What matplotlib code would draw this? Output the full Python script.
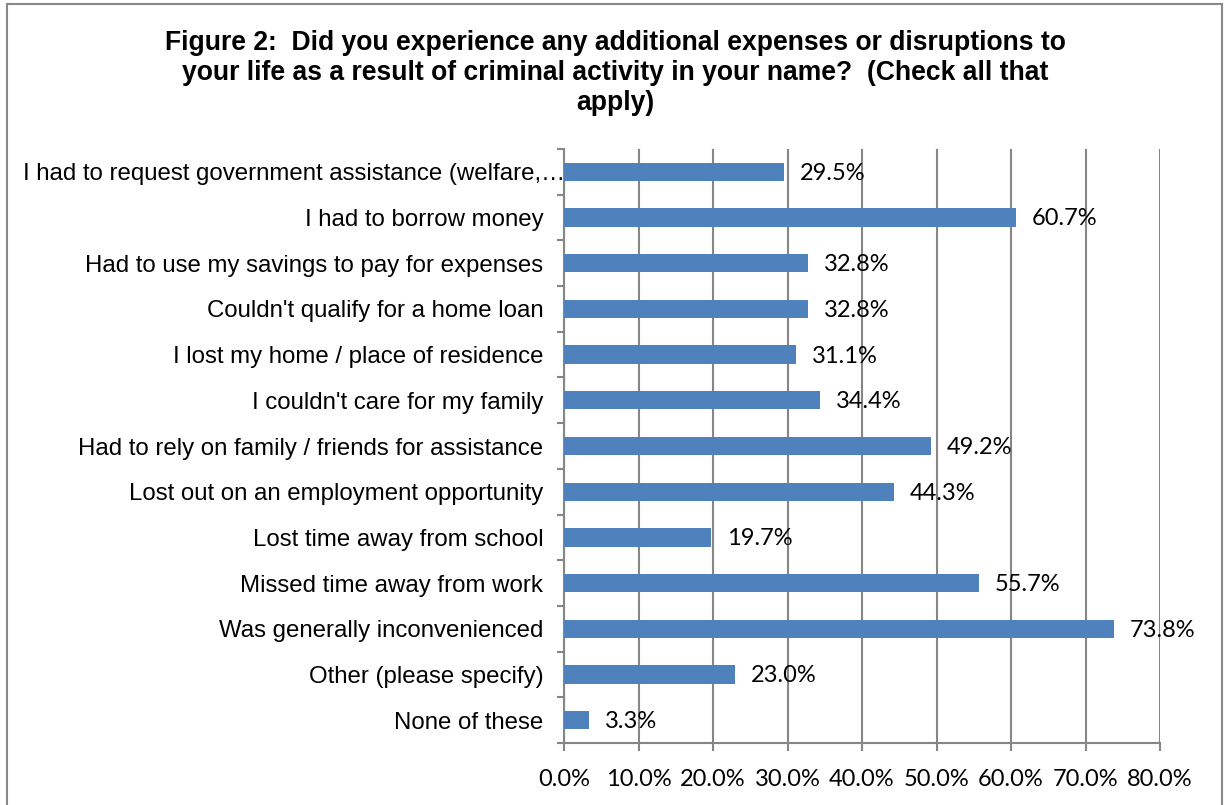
import matplotlib
matplotlib.use('Agg')
import matplotlib.pyplot as plt
from matplotlib.patches import Rectangle
from matplotlib.ticker import MultipleLocator, FuncFormatter
from matplotlib.transforms import ScaledTranslation

categories = [
    'I had to request government assistance (welfare,\u2026',
    'I had to borrow money',
    'Had to use my savings to pay for expenses',
    "Couldn't qualify for a home loan",
    'I lost my home / place of residence',
    "I couldn't care for my family",
    'Had to rely on family / friends for assistance',
    'Lost out on an employment opportunity',
    'Lost time away from school',
    'Missed time away from work',
    'Was generally inconvenienced',
    'Other (please specify)',
    'None of these',
]
values = [29.5, 60.7, 32.8, 32.8, 31.1, 34.4, 49.2, 44.3, 19.7, 55.7, 73.8, 23.0, 3.3]

title = ('Figure 2:  Did you experience any additional expenses or disruptions to\n'
         'your life as a result of criminal activity in your name?  (Check all that\n'
         'apply)')

grey = '#868686'
bar_color = '#4F81BD'

fig = plt.figure(figsize=(12.24, 8.05), dpi=100)
ax = fig.add_axes([564 / 1224, 1 - 743 / 805, (1160 - 564) / 1224, (743 - 149) / 805])

y = list(range(len(categories)))
ax.barh(y, values, height=0.4, color=bar_color, zorder=3)

for yi, v in zip(y, values):
    ax.annotate(f'{v:.1f}%', (v, yi), xytext=(11.5, -1), textcoords='offset points',
                ha='left', va='center', fontsize=17, family='Lato', zorder=4)

ax.set_xlim(0, 80)
ax.set_ylim(len(categories) - 0.5, -0.5)
ax.xaxis.set_major_locator(MultipleLocator(10))
ax.xaxis.set_major_formatter(FuncFormatter(lambda x, _: f'{x:.1f}%'))
ax.grid(axis='x', color=grey, linewidth=1.5, zorder=0)

ax.set_yticks(y)
ax.set_yticklabels(categories, family='Liberation Sans', fontsize=17.3)
ax.set_yticks([i - 0.5 for i in range(len(categories) + 1)], minor=True)
ax.tick_params(axis='y', which='major', length=0, pad=15)
ax.tick_params(axis='y', which='minor', length=5, width=1.5, color=grey)
ax.tick_params(axis='x', length=6, width=1.5, color=grey, pad=13)
for lab in ax.get_xticklabels():
    lab.set_family('Lato')
    lab.set_fontsize(17)

# the truncated first label runs up to the axis line
first = ax.get_yticklabels()[0]
first.set_transform(first.get_transform() + ScaledTranslation(0.22, 0, fig.dpi_scale_trans))

for side in ('top', 'right'):
    ax.spines[side].set_visible(False)
for side in ('left', 'bottom'):
    ax.spines[side].set_color(grey)
    ax.spines[side].set_linewidth(1.5)

fig.text(0.503, 1 - 73 / 805, title, ha='center', va='center', fontsize=19.1,
         fontweight='bold', family='Liberation Sans', linespacing=1.21)

fig.patches.append(Rectangle((7 / 1224, -0.05), (1222 - 7) / 1224, 1.05 - 4 / 805,
                             transform=fig.transFigure, fill=False,
                             edgecolor='#898989', linewidth=1.5))

fig.savefig('out.png', dpi=100)
